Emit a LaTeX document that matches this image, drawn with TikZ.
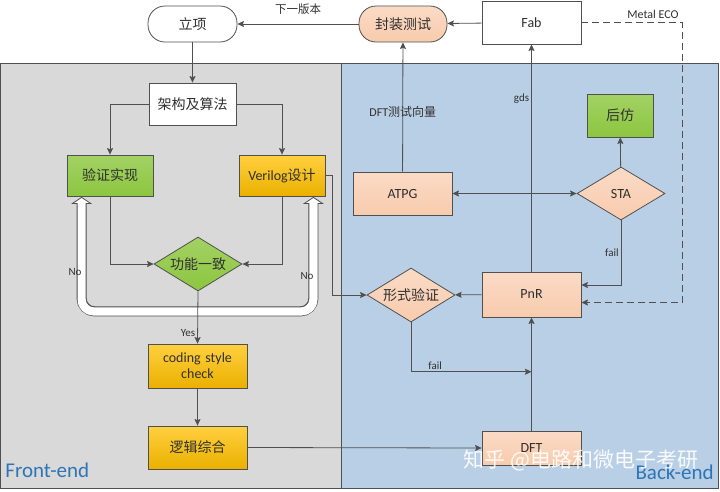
\documentclass[tikz,border=0pt]{standalone}
\usepackage{fontspec}
\setmainfont{Carlito}
\newfontfamily\cjk{Noto Sans CJK SC}
\usetikzlibrary{calc}
\usetikzlibrary{positioning}
\usetikzlibrary{shapes.geometric}
\usetikzlibrary{arrows.meta}

\definecolor{panelgray}{HTML}{D9D9D9}
\definecolor{panelblue}{HTML}{B9CFE5}
\definecolor{peach}{HTML}{F8CBAD}
\definecolor{leaf}{HTML}{8CC63F}
\definecolor{amber}{HTML}{FFC000}
\definecolor{ink}{HTML}{303030}
\definecolor{edgegray}{HTML}{505050}
\definecolor{tagblue}{HTML}{2E75B6}

\tikzset{
  box/.style={draw=edgegray, minimum width=99pt, minimum height=43pt, inner sep=2pt,
    font=\fontsize{14}{16}\selectfont, text=ink, align=center},
  zh/.style={font=\cjk\fontsize{14}{16}\selectfont},
  pill/.style={box, rounded corners=17pt, minimum height=36pt},
  decide/.style={diamond, draw=edgegray, inner sep=0pt, aspect=1.6, minimum width=88pt,
    minimum height=54pt, font=\fontsize{14}{16}\selectfont, text=ink},
  peachfill/.style={top color=peach!70!white, bottom color=peach},
  leaffill/.style={top color=leaf!80!white, bottom color=leaf},
  amberfill/.style={top color=amber!75!white, bottom color=amber!92!black},
  tag/.style={font=\fontsize{11}{13}\selectfont, text=ink, inner sep=2pt},
  wire/.style={edgegray, ->}
}

\begin{document}
\begin{tikzpicture}[>={Stealth[length=6.5pt,width=6pt,inset=1pt]}, x=1pt, y=-1pt, line width=0.8pt]
  \useasboundingbox (0,0) rectangle (720,491);

  % panels
  \draw[edgegray, fill=panelgray] (0.5,63) rectangle (341,488);
  \draw[edgegray, fill=panelblue] (341,63) rectangle (718,488);
  \node[anchor=base west, inner sep=0pt, font=\fontsize{21}{24}\selectfont, text=tagblue] (fe) at (5,477) {Front-end};
  \node[anchor=base east, inner sep=0pt, font=\fontsize{21}{24}\selectfont, text=tagblue] (be) at (714,479) {Back-end};

  % top row
  \node[pill, zh, fill=white, minimum width=89pt] (start) at (192.5,24) {立项};
  \node[pill, zh, peachfill, minimum width=88pt] (pack) at (403,24) {封装测试};
  \node[box, fill=white] (fab) at (531.5,22.5) {Fab};

  % front-end
  \node[box, zh, fill=white, minimum width=87pt, minimum height=42pt] (arch) at (192.5,104) {架构及算法};
  \node[box, zh, leaffill, minimum width=86pt, minimum height=41pt] (verify) at (110,175.5) {验证实现};
  \node[box, amberfill, minimum width=86pt, minimum height=41pt] (rtl) at (282,175.5) {Verilog{\cjk 设计}};
  \node[decide, zh, leaffill] (func) at (198,264) {功能一致};
  \node[box, amberfill, minimum height=44pt, text width=90pt] (coding) at (197.5,366) {coding style\\check};
  \node[box, zh, amberfill] (synth) at (197.5,447.5) {逻辑综合};

  % back-end
  \node[box, peachfill, minimum height=34pt] (dft) at (531.5,448) {DFT};
  \node[box, peachfill, minimum height=45pt] (pnr) at (531.5,294.5) {PnR};
  \node[decide, zh, peachfill] (fv) at (411,295) {形式验证};
  \node[box, peachfill] (atpg) at (402.5,193.5) {ATPG};
  \node[decide, peachfill, minimum height=53pt] (sta) at (621,193.5) {STA};
  \node[box, zh, leaffill, minimum width=66pt] (post) at (620,115.5) {后仿};

  % hollow No arrow
  \coordinate (noL) at ($(verify.south west)+(15,1)$);
  \coordinate (noR) at ($(rtl.south east)+(-12,1)$);
  \coordinate (noB) at ($(func.south)+(0,20)$);
  \draw[edgegray, line width=10pt, rounded corners=13pt]
    ($(noL)+(0,6)$) -- (noL |- noB) -- (noR |- noB) -- ($(noR)+(0,6)$);
  \filldraw[fill=white, draw=edgegray] (noL) -- ++(9,6) -- ++(-18,0) -- cycle;
  \filldraw[fill=white, draw=edgegray] (noR) -- ++(9,6) -- ++(-18,0) -- cycle;
  \draw[white, line width=8.2pt, rounded corners=12pt]
    ($(noL)+(0,5.4)$) -- (noL |- noB) -- (noR |- noB) -- ($(noR)+(0,5.4)$);
  \node[tag] (noleft) at (75,272) {No};
  \node[tag] (noright) at (307,276) {No};

  % front-end flow
  \draw[wire] (pack) -- (start) node[midway, above=7pt, tag, font=\cjk\fontsize{11.5}{13}\selectfont] {下一版本};
  \draw[wire] (fab) -- (pack);
  \draw[wire] (start) -- (arch);
  \draw[wire] (arch.west) -| (verify.north);
  \draw[wire] (arch.east) -| (rtl.north);
  \draw[wire] (verify.south) |- (func.west);
  \draw[wire] (rtl.south) |- (func.east);
  \draw[wire] (func.south) -- (coding.north) node[pos=0.8, left, tag] {Yes};
  \draw[wire] (coding) -- (synth);
  \draw[wire] (synth.east) -- (dft.west);

  % back-end flow
  \coordinate (fvfail) at ($(pnr.south)!0.48!(dft.north)$);
  \coordinate (eco) at (682,22.5);
  \draw[wire] (dft) -- (pnr);
  \draw[wire] (pnr) -- (fv);
  \draw[wire] (rtl.east) -- ++(7,0) |- (fv.west);
  \draw[wire] (fv.south) |- (fvfail) node[pos=0.6, above, tag] {fail};
  \draw[edgegray, <->] (atpg.east) -- (sta.west);
  \draw[wire] (sta.south) |- ($(pnr.east)+(0,-9.5)$) node[pos=0.25, left, tag] {fail};
  \draw[wire] (sta) -- (post);
  \draw[wire] (pnr) -- (fab) node[pos=0.76, left, tag] {gds};
  \draw[wire] (atpg) -- (pack) node[pos=0.46, tag, font=\fontsize{12}{14}\selectfont] {DFT{\cjk 测试向量}};
  \draw[wire, dashed, dash pattern=on 7pt off 4pt] (fab.east) -- (eco) |- ($(pnr.east)+(0,8)$);
  \node[tag, above left=2pt and 1pt, font=\fontsize{12}{14}\selectfont] (ecotext) at (eco) {Metal ECO};

  % watermark
  \node[text=white, opacity=0.9, font=\cjk\fontsize{21}{24}\selectfont] (mark) at (581,460) {知乎 @电路和微电子考研};
\end{tikzpicture}
\end{document}
